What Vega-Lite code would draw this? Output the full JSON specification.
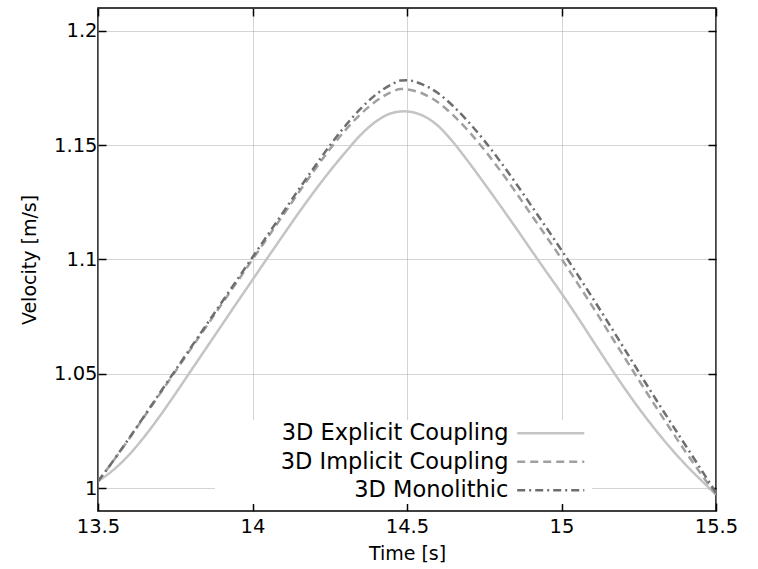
{
  "$schema": "https://vega.github.io/schema/vega-lite/v6.json",
  "width": 618,
  "height": 503,
  "autosize": {"type": "none"},
  "padding": {"left": 98, "top": 8, "right": 42, "bottom": 58},
  "background": "white",
  "config": {
    "font": "DejaVu Sans",
    "view": {"stroke": "black", "strokeWidth": 1.5},
    "axis": {
      "domain": false,
      "grid": true,
      "gridColor": "#a8a8a8",
      "gridDash": [1, 1],
      "gridWidth": 1,
      "tickColor": "black",
      "tickWidth": 1.5,
      "tickSize": -8,
      "labelFlush": false,
      "labelColor": "black",
      "labelFont": "DejaVu Sans",
      "labelFontSize": 19.5,
      "titleFont": "DejaVu Sans",
      "titleFontSize": 19,
      "titleFontWeight": "normal",
      "titleColor": "black"
    },
    "legend": {
      "orient": "none",
      "legendX": 117,
      "legendY": 412,
      "fillColor": "white",
      "padding": 2,
      "symbolType": "M-5,0H5",
      "symbolSize": 180,
      "symbolStrokeWidth": 2.5,
      "symbolOffset": 322.5,
      "labelAlign": "right",
      "labelOffset": -53.5,
      "labelFont": "DejaVu Sans",
      "labelFontSize": 22.5,
      "labelColor": "black",
      "labelLimit": 400,
      "rowPadding": 5.5
    }
  },
  "data": {
    "values": [
      {"t": 13.5, "v": 1.003, "s": "3D Explicit Coupling"},
      {"t": 13.55, "v": 1.008, "s": "3D Explicit Coupling"},
      {"t": 13.6, "v": 1.0145, "s": "3D Explicit Coupling"},
      {"t": 13.65, "v": 1.0225, "s": "3D Explicit Coupling"},
      {"t": 13.7, "v": 1.0315, "s": "3D Explicit Coupling"},
      {"t": 13.75, "v": 1.0412, "s": "3D Explicit Coupling"},
      {"t": 13.8, "v": 1.0512, "s": "3D Explicit Coupling"},
      {"t": 13.85, "v": 1.0612, "s": "3D Explicit Coupling"},
      {"t": 13.9, "v": 1.0712, "s": "3D Explicit Coupling"},
      {"t": 13.95, "v": 1.0812, "s": "3D Explicit Coupling"},
      {"t": 14.0, "v": 1.0911, "s": "3D Explicit Coupling"},
      {"t": 14.05, "v": 1.101, "s": "3D Explicit Coupling"},
      {"t": 14.1, "v": 1.1108, "s": "3D Explicit Coupling"},
      {"t": 14.15, "v": 1.1205, "s": "3D Explicit Coupling"},
      {"t": 14.2, "v": 1.1298, "s": "3D Explicit Coupling"},
      {"t": 14.25, "v": 1.1386, "s": "3D Explicit Coupling"},
      {"t": 14.3, "v": 1.1468, "s": "3D Explicit Coupling"},
      {"t": 14.35, "v": 1.1545, "s": "3D Explicit Coupling"},
      {"t": 14.4, "v": 1.1604, "s": "3D Explicit Coupling"},
      {"t": 14.45, "v": 1.164, "s": "3D Explicit Coupling"},
      {"t": 14.49, "v": 1.1648, "s": "3D Explicit Coupling"},
      {"t": 14.55, "v": 1.163, "s": "3D Explicit Coupling"},
      {"t": 14.6, "v": 1.1585, "s": "3D Explicit Coupling"},
      {"t": 14.65, "v": 1.1512, "s": "3D Explicit Coupling"},
      {"t": 14.7, "v": 1.1425, "s": "3D Explicit Coupling"},
      {"t": 14.75, "v": 1.1333, "s": "3D Explicit Coupling"},
      {"t": 14.8, "v": 1.1239, "s": "3D Explicit Coupling"},
      {"t": 14.85, "v": 1.1143, "s": "3D Explicit Coupling"},
      {"t": 14.9, "v": 1.1045, "s": "3D Explicit Coupling"},
      {"t": 14.95, "v": 1.0948, "s": "3D Explicit Coupling"},
      {"t": 15.0, "v": 1.0852, "s": "3D Explicit Coupling"},
      {"t": 15.05, "v": 1.0752, "s": "3D Explicit Coupling"},
      {"t": 15.1, "v": 1.0648, "s": "3D Explicit Coupling"},
      {"t": 15.15, "v": 1.0545, "s": "3D Explicit Coupling"},
      {"t": 15.2, "v": 1.0445, "s": "3D Explicit Coupling"},
      {"t": 15.25, "v": 1.035, "s": "3D Explicit Coupling"},
      {"t": 15.3, "v": 1.0262, "s": "3D Explicit Coupling"},
      {"t": 15.35, "v": 1.018, "s": "3D Explicit Coupling"},
      {"t": 15.4, "v": 1.0105, "s": "3D Explicit Coupling"},
      {"t": 15.45, "v": 1.0037, "s": "3D Explicit Coupling"},
      {"t": 15.5, "v": 0.9972, "s": "3D Explicit Coupling"},

      {"t": 13.5, "v": 1.003, "s": "3D Implicit Coupling"},
      {"t": 13.55, "v": 1.012, "s": "3D Implicit Coupling"},
      {"t": 13.6, "v": 1.0215, "s": "3D Implicit Coupling"},
      {"t": 13.65, "v": 1.0313, "s": "3D Implicit Coupling"},
      {"t": 13.7, "v": 1.0412, "s": "3D Implicit Coupling"},
      {"t": 13.75, "v": 1.051, "s": "3D Implicit Coupling"},
      {"t": 13.8, "v": 1.0608, "s": "3D Implicit Coupling"},
      {"t": 13.85, "v": 1.0706, "s": "3D Implicit Coupling"},
      {"t": 13.9, "v": 1.0804, "s": "3D Implicit Coupling"},
      {"t": 13.95, "v": 1.0902, "s": "3D Implicit Coupling"},
      {"t": 14.0, "v": 1.1, "s": "3D Implicit Coupling"},
      {"t": 14.05, "v": 1.1098, "s": "3D Implicit Coupling"},
      {"t": 14.1, "v": 1.1196, "s": "3D Implicit Coupling"},
      {"t": 14.15, "v": 1.1294, "s": "3D Implicit Coupling"},
      {"t": 14.2, "v": 1.139, "s": "3D Implicit Coupling"},
      {"t": 14.25, "v": 1.1482, "s": "3D Implicit Coupling"},
      {"t": 14.3, "v": 1.1565, "s": "3D Implicit Coupling"},
      {"t": 14.35, "v": 1.1636, "s": "3D Implicit Coupling"},
      {"t": 14.4, "v": 1.1693, "s": "3D Implicit Coupling"},
      {"t": 14.45, "v": 1.1733, "s": "3D Implicit Coupling"},
      {"t": 14.48, "v": 1.1746, "s": "3D Implicit Coupling"},
      {"t": 14.5, "v": 1.1744, "s": "3D Implicit Coupling"},
      {"t": 14.55, "v": 1.1726, "s": "3D Implicit Coupling"},
      {"t": 14.6, "v": 1.1688, "s": "3D Implicit Coupling"},
      {"t": 14.65, "v": 1.163, "s": "3D Implicit Coupling"},
      {"t": 14.7, "v": 1.156, "s": "3D Implicit Coupling"},
      {"t": 14.75, "v": 1.148, "s": "3D Implicit Coupling"},
      {"t": 14.8, "v": 1.1392, "s": "3D Implicit Coupling"},
      {"t": 14.85, "v": 1.1298, "s": "3D Implicit Coupling"},
      {"t": 14.9, "v": 1.12, "s": "3D Implicit Coupling"},
      {"t": 14.95, "v": 1.1102, "s": "3D Implicit Coupling"},
      {"t": 15.0, "v": 1.1003, "s": "3D Implicit Coupling"},
      {"t": 15.05, "v": 1.09, "s": "3D Implicit Coupling"},
      {"t": 15.1, "v": 1.0795, "s": "3D Implicit Coupling"},
      {"t": 15.15, "v": 1.0688, "s": "3D Implicit Coupling"},
      {"t": 15.2, "v": 1.058, "s": "3D Implicit Coupling"},
      {"t": 15.25, "v": 1.0473, "s": "3D Implicit Coupling"},
      {"t": 15.3, "v": 1.0367, "s": "3D Implicit Coupling"},
      {"t": 15.35, "v": 1.0263, "s": "3D Implicit Coupling"},
      {"t": 15.4, "v": 1.0162, "s": "3D Implicit Coupling"},
      {"t": 15.45, "v": 1.0065, "s": "3D Implicit Coupling"},
      {"t": 15.5, "v": 0.9972, "s": "3D Implicit Coupling"},

      {"t": 13.5, "v": 1.003, "s": "3D Monolithic"},
      {"t": 13.55, "v": 1.0121, "s": "3D Monolithic"},
      {"t": 13.6, "v": 1.0217, "s": "3D Monolithic"},
      {"t": 13.65, "v": 1.0316, "s": "3D Monolithic"},
      {"t": 13.7, "v": 1.0416, "s": "3D Monolithic"},
      {"t": 13.75, "v": 1.0515, "s": "3D Monolithic"},
      {"t": 13.8, "v": 1.0614, "s": "3D Monolithic"},
      {"t": 13.85, "v": 1.0713, "s": "3D Monolithic"},
      {"t": 13.9, "v": 1.0812, "s": "3D Monolithic"},
      {"t": 13.95, "v": 1.0911, "s": "3D Monolithic"},
      {"t": 14.0, "v": 1.101, "s": "3D Monolithic"},
      {"t": 14.05, "v": 1.1109, "s": "3D Monolithic"},
      {"t": 14.1, "v": 1.1208, "s": "3D Monolithic"},
      {"t": 14.15, "v": 1.1307, "s": "3D Monolithic"},
      {"t": 14.2, "v": 1.1404, "s": "3D Monolithic"},
      {"t": 14.25, "v": 1.1498, "s": "3D Monolithic"},
      {"t": 14.3, "v": 1.1584, "s": "3D Monolithic"},
      {"t": 14.35, "v": 1.166, "s": "3D Monolithic"},
      {"t": 14.4, "v": 1.1722, "s": "3D Monolithic"},
      {"t": 14.45, "v": 1.1766, "s": "3D Monolithic"},
      {"t": 14.48, "v": 1.1783, "s": "3D Monolithic"},
      {"t": 14.5, "v": 1.1784, "s": "3D Monolithic"},
      {"t": 14.55, "v": 1.1766, "s": "3D Monolithic"},
      {"t": 14.6, "v": 1.1728, "s": "3D Monolithic"},
      {"t": 14.65, "v": 1.167, "s": "3D Monolithic"},
      {"t": 14.7, "v": 1.16, "s": "3D Monolithic"},
      {"t": 14.75, "v": 1.152, "s": "3D Monolithic"},
      {"t": 14.8, "v": 1.1432, "s": "3D Monolithic"},
      {"t": 14.85, "v": 1.1338, "s": "3D Monolithic"},
      {"t": 14.9, "v": 1.124, "s": "3D Monolithic"},
      {"t": 14.95, "v": 1.1141, "s": "3D Monolithic"},
      {"t": 15.0, "v": 1.1041, "s": "3D Monolithic"},
      {"t": 15.05, "v": 1.0938, "s": "3D Monolithic"},
      {"t": 15.1, "v": 1.0833, "s": "3D Monolithic"},
      {"t": 15.15, "v": 1.0726, "s": "3D Monolithic"},
      {"t": 15.2, "v": 1.0617, "s": "3D Monolithic"},
      {"t": 15.25, "v": 1.0508, "s": "3D Monolithic"},
      {"t": 15.3, "v": 1.04, "s": "3D Monolithic"},
      {"t": 15.35, "v": 1.0294, "s": "3D Monolithic"},
      {"t": 15.4, "v": 1.019, "s": "3D Monolithic"},
      {"t": 15.45, "v": 1.0085, "s": "3D Monolithic"},
      {"t": 15.5, "v": 0.998, "s": "3D Monolithic"}
    ]
  },
  "layer": [
    {
      "mark": {"type": "line", "strokeWidth": 2.5, "interpolate": "monotone", "clip": true},
      "encoding": {
        "x": {
          "field": "t", "type": "quantitative",
          "scale": {"domain": [13.5, 15.5], "nice": false, "zero": false},
          "axis": {"orient": "bottom", "values": [13.5, 14, 14.5, 15, 15.5], "labelExpr": "'' + datum.value", "title": "Time [s]", "labelPadding": 14, "titlePadding": 9}
        },
        "y": {
          "field": "v", "type": "quantitative",
          "scale": {"domain": [0.99, 1.21], "nice": false, "zero": false},
          "axis": {"orient": "left", "values": [1, 1.05, 1.1, 1.15, 1.2], "labelExpr": "'' + datum.value", "title": "Velocity [m/s]", "labelPadding": 9, "titlePadding": 14}
        },
        "color": {
          "field": "s", "type": "nominal",
          "scale": {"domain": ["3D Explicit Coupling", "3D Implicit Coupling", "3D Monolithic"], "range": ["#c4c4c4", "#a0a0a0", "#6e6e6e"]},
          "legend": {"title": null}
        },
        "strokeDash": {
          "field": "s", "type": "nominal",
          "scale": {"domain": ["3D Explicit Coupling", "3D Implicit Coupling", "3D Monolithic"], "range": [[1, 0], [8, 5], [8, 4, 2, 4]]},
          "legend": {"title": null}
        }
      }
    },
    {
      "mark": {"type": "point", "opacity": 0},
      "encoding": {
        "x": {
          "field": "t", "type": "quantitative",
          "axis": {"orient": "top", "values": [13.5, 14, 14.5, 15, 15.5], "labels": false, "title": null, "grid": false}
        },
        "y": {
          "field": "v", "type": "quantitative",
          "axis": {"orient": "right", "values": [1, 1.05, 1.1, 1.15, 1.2], "labels": false, "title": null, "grid": false}
        }
      }
    }
  ],
  "resolve": {"axis": {"x": "independent", "y": "independent"}}
}
